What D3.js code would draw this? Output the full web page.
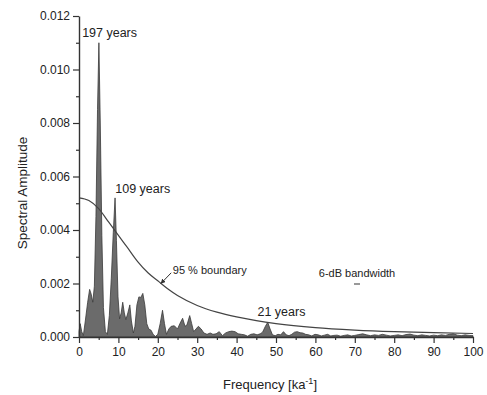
<!DOCTYPE html>
<html>
<head>
<meta charset="utf-8">
<script src="https://cdn.jsdelivr.net/npm/d3@7"></script>
<style>
  body { margin: 0; background: #fff; }
  svg text { font-family: "Liberation Sans", Arial, sans-serif; fill: #222; }
</style>
</head>
<body>
<div id="chart"></div>
<script>
// spectrum (frequency in ka^-1, amplitude)
var freq = [0, 0.3, 0.7, 1.1, 1.6, 2.2, 2.7, 3.1, 3.5, 3.9, 4.3, 4.7, 5.05, 5.4, 5.8, 6.2, 6.7, 7.2, 7.7, 8.2,
  8.7, 9.15, 9.5, 9.9, 10.3, 10.7, 11.1, 11.5, 11.9, 12.4, 12.9, 13.3, 13.8, 14.2, 14.7, 15.2, 15.7, 16.2, 16.7, 17.2,
  17.7, 18.3, 18.8, 19.4, 20.0, 20.6, 21.2, 21.7, 22.2, 22.8, 23.4, 24.2, 25.0, 25.6, 26.3, 26.9, 27.4, 28.1, 28.6, 29.1,
  29.7, 30.3, 31.0, 31.7, 32.5, 33.3, 34.0, 34.8, 35.6, 36.4, 37.2, 38.0, 38.8, 39.6, 40.4, 41.2, 42.0, 42.8, 43.6, 44.4,
  45.2, 46.0, 46.6, 47.3, 47.9, 48.5, 49.1, 49.8, 50.5, 51.2, 51.9, 52.6, 53.3, 54.0, 54.7, 55.4, 56.1, 56.8, 57.5, 58.3,
  59.1, 59.9, 60.7, 61.5, 62.3, 63.1, 63.9, 64.7, 65.5, 66.4, 67.3, 68.2, 69.1, 70, 71, 72, 73, 74, 75, 76,
  77, 78, 79, 80, 81, 82, 83, 84, 85, 86, 87, 88, 89, 90, 91, 92, 93, 94, 95, 96,
  97, 98, 99, 100];
var amp = [0.0002, 0.0005, 0.0002, 0.00005, 0.0006, 0.0013, 0.00178, 0.0016, 0.0013, 0.0019, 0.0045, 0.0085, 0.011, 0.008, 0.0038, 0.0011, 0.0002, 0.0001, 0.0008, 0.0022,
  0.0039, 0.0052, 0.0036, 0.0015, 0.00068, 0.0009, 0.0013, 0.0009, 0.00065, 0.0009, 0.0012, 0.0006, 0.00015, 0.0004, 0.0012, 0.0015, 0.00148, 0.00163, 0.0012, 0.0005,
  0.0003, 0.00025, 0.0001, 0.00002, 0.0001, 0.0005, 0.001, 0.0005, 0.0001, 0.0003, 0.0004, 0.00042, 0.0003, 0.0005, 0.0007, 0.0004, 0.00045, 0.0008, 0.0005, 0.0002,
  0.0003, 0.0004, 0.0003, 0.00015, 0.0001, 0.00015, 0.0001, 0.00012, 0.0002, 0.00005, 0.00015, 0.0002, 0.00022, 0.0002, 0.00012, 0.0001, 0.00008, 0.00003, 0.0001, 0.00012,
  0.00008, 0.00012, 0.00018, 0.0004, 0.00055, 0.0003, 0.00008, 0.00005, 0.0001, 0.00008, 0.0002, 0.00008, 0.00005, 0.0001, 0.00018, 0.0002, 0.00016, 0.00015, 0.0001, 0.00008,
  0.00004, 0.0001, 0.00008, 0.00004, 0.00007, 0.0001, 0.00004, 0.00006, 0.00007, 0.00003, 0.00006, 0.00008, 0.00004, 0.00006, 0.00009, 0.00012, 0.00008, 0.00005, 0.00008, 0.00006,
  0.0001, 0.00007, 0.00004, 0.00006, 0.00008, 0.00005, 0.00009, 0.00011, 0.00007, 0.00005, 0.00008, 0.00006, 0.00004, 0.00007, 0.00005, 0.00008, 0.00006, 0.0001, 0.00012, 0.00007,
  0.00005, 0.00008, 0.00006, 0.00005];

// 95 % boundary curve
var bFreq = [0, 2.5, 5, 7.5, 10, 12.5, 15, 17.5, 20, 22.5, 25, 30, 35, 40, 45, 50, 60, 70, 80, 90, 100];
var bAmp = [0.0052, 0.0051, 0.0048, 0.0043, 0.0038, 0.0033, 0.0028, 0.0024, 0.0021, 0.0018, 0.00155, 0.00118, 0.00093, 0.00075, 0.00061, 0.0005, 0.00035, 0.00026, 0.0002, 0.00016, 0.00013];

var xTicks = [0, 10, 20, 30, 40, 50, 60, 70, 80, 90, 100];
var yTicks = [0, 0.002, 0.004, 0.006, 0.008, 0.010, 0.012];

// peak labels: [freq, amp, text]
var peaks = [[0.8, 0.0112, "197 years"], [9.2, 0.0054, "109 years"], [45.3, 0.0008, "21 years"]];

var W = 487, H = 395;
var margin = {top: 16, right: 14, bottom: 58, left: 79};

var svg = d3.select("#chart").append("svg")
  .attr("width", W)
  .attr("height", H);

var x = d3.scaleLinear().domain([0, 100]).range([margin.left, W - margin.right]);
var y = d3.scaleLinear().domain([0, 0.012]).range([H - margin.bottom, margin.top]);

var spec = freq.map(function(f, i) { return {f: f, a: amp[i]}; });
var bound = bFreq.map(function(f, i) { return {f: f, a: bAmp[i]}; });

// filled spectrum
svg.append("path")
  .datum(spec)
  .attr("fill", "#6b6b6b")
  .attr("stroke", "#3a3a3a")
  .attr("stroke-width", 0.8)
  .attr("d", d3.area()
    .x(function(d) { return x(d.f); })
    .y0(y(0))
    .y1(function(d) { return y(d.a); }));

// boundary line
svg.append("path")
  .datum(bound)
  .attr("fill", "none")
  .attr("stroke", "#444")
  .attr("stroke-width", 1.2)
  .attr("d", d3.line()
    .curve(d3.curveMonotoneX)
    .x(function(d) { return x(d.f); })
    .y(function(d) { return y(d.a); }));

// axes
svg.append("g")
  .attr("transform", "translate(0," + y(0) + ")")
  .call(d3.axisBottom(x).tickValues(xTicks).tickSize(6).tickSizeOuter(0).tickPadding(4));
svg.append("g")
  .attr("transform", "translate(0," + y(0) + ")")
  .call(d3.axisBottom(x).tickValues(d3.range(5, 100, 10)).tickSize(3).tickFormat(""))
  .select(".domain").remove();

svg.append("g")
  .attr("transform", "translate(" + x(0) + ",0)")
  .call(d3.axisLeft(y).tickValues(yTicks).tickSize(6).tickSizeOuter(0).tickPadding(3)
    .tickFormat(d3.format(".3f")));
svg.append("g")
  .attr("transform", "translate(" + x(0) + ",0)")
  .call(d3.axisLeft(y).tickValues([0.001, 0.003, 0.005, 0.007, 0.009, 0.011]).tickSize(3).tickFormat(""))
  .select(".domain").remove();

svg.selectAll(".domain").attr("stroke", "#333").attr("stroke-width", 1.4);
svg.selectAll(".tick line").attr("stroke", "#333").attr("stroke-width", 1.2);
svg.selectAll(".tick text").style("font-size", "12px").attr("fill", "#222");

// axis titles
svg.append("text")
  .attr("x", 270)
  .attr("y", 389)
  .attr("text-anchor", "middle")
  .style("font-size", "13px")
  .html('Frequency [ka<tspan dy="-5" style="font-size:9px">-1</tspan><tspan dy="5">]</tspan>');

svg.append("text")
  .attr("transform", "translate(27,193) rotate(-90)")
  .attr("text-anchor", "middle")
  .style("font-size", "13.5px")
  .text("Spectral Amplitude");

// peak labels
svg.selectAll(".peak")
  .data(peaks)
  .enter().append("text")
  .attr("class", "peak")
  .attr("x", function(d) { return x(d[0]); })
  .attr("y", function(d) { return y(d[1]); })
  .style("font-size", "12.5px")
  .text(function(d) { return d[2]; });

// 95 % boundary label with arrow
svg.append("defs").append("marker")
  .attr("id", "arr")
  .attr("viewBox", "0 0 10 10")
  .attr("refX", 9).attr("refY", 5)
  .attr("markerWidth", 5).attr("markerHeight", 5)
  .attr("orient", "auto")
  .append("path").attr("d", "M0,0 L10,5 L0,10 z").attr("fill", "#333");

svg.append("line")
  .attr("x1", x(23.4)).attr("y1", y(0.0024))
  .attr("x2", x(20.8)).attr("y2", y(0.0020))
  .attr("stroke", "#333").attr("stroke-width", 1)
  .attr("marker-end", "url(#arr)");

svg.append("text")
  .attr("x", x(23.8))
  .attr("y", y(0.00235))
  .style("font-size", "11px")
  .text("95 % boundary");

// 6-dB bandwidth marker
svg.append("text")
  .attr("x", 357)
  .attr("y", 277)
  .attr("text-anchor", "middle")
  .style("font-size", "11px")
  .text("6-dB bandwidth");
svg.append("line")
  .attr("x1", 354).attr("x2", 360)
  .attr("y1", 284).attr("y2", 284)
  .attr("stroke", "#555").attr("stroke-width", 1.2);
</script>
</body>
</html>
